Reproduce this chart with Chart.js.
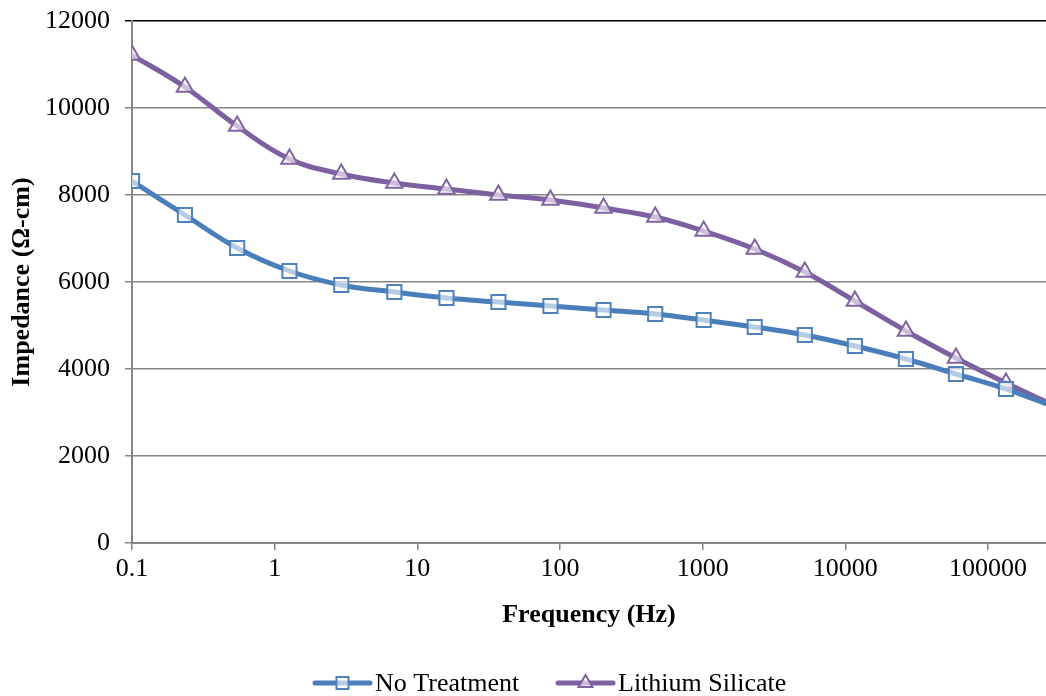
<!DOCTYPE html>
<html>
<head>
<meta charset="utf-8">
<script src="https://cdn.jsdelivr.net/npm/chart.js@4.4.1/dist/chart.umd.min.js"></script>
<style>
  html, body { margin:0; padding:0; background:#fff; }
  #wrap { width:1046px; height:696px; }
</style>
</head>
<body>
<div id="wrap"><canvas id="impChart" width="1046" height="696"></canvas></div>
<script>
// --- Data ---
const frequency = [0.1, 0.235, 0.546, 1.27, 2.93, 6.9, 16, 37, 85.7, 202, 465, 1016, 2317, 5200, 11670, 26600, 59600, 133700, 305000];
const noTreatment = [8322, 7540, 6782, 6253, 5931, 5770, 5632, 5540, 5448, 5356, 5264, 5126, 4966, 4782, 4529, 4230, 3885, 3540, 3110];
const lithiumSilicate = [11218, 10483, 9586, 8828, 8483, 8276, 8138, 8000, 7885, 7701, 7494, 7172, 6759, 6230, 5563, 4874, 4253, 3678, 3130];
const xTicks = [0.1, 1, 10, 100, 1000, 10000, 100000];
const seriesNames = ['No Treatment', 'Lithium Silicate'];

const FONT = '"Liberation Serif", "Times New Roman", serif';
const GRID = '#868686';

const toPoints = vals => vals.map((v,i)=>({x: frequency[i], y: v}));

// --- Legend drawn as line + marker, like the spreadsheet legend ---
const lineLegend = {
  id: 'lineLegend',
  afterDraw(chart){
    const c = chart.ctx;
    const items = [
      {x: 315, ds: chart.data.datasets[0]},
      {x: 558, ds: chart.data.datasets[1]}
    ];
    const y = 683;
    c.save();
    items.forEach(it=>{
      c.strokeStyle = it.ds.borderColor;
      c.lineWidth = it.ds.borderWidth;
      c.lineCap = 'round';
      c.beginPath();
      c.moveTo(it.x, y);
      c.lineTo(it.x + 55, y);
      c.stroke();
      c.fillStyle = it.ds.pointBackgroundColor;
      c.strokeStyle = it.ds.pointBorderColor;
      c.lineWidth = it.ds.pointBorderWidth;
      Chart.helpers.drawPoint(c, {
        pointStyle: it.ds.pointStyle,
        radius: it.ds.pointRadius * 0.85,
        borderWidth: it.ds.pointBorderWidth
      }, it.x + 27.5, y);
      c.fillStyle = '#000';
      c.font = '26px ' + FONT;
      c.textBaseline = 'middle';
      c.fillText(it.ds.label, it.x + 60, y + 1);
    });
    c.restore();
  }
};

const ctx = document.getElementById('impChart').getContext('2d');
const chart = new Chart(ctx, {
  type: 'line',
  data: {
    datasets: [
      {
        label: seriesNames[0],
        data: toPoints(noTreatment),
        borderColor: '#4A7EBB',
        borderWidth: 5,
        pointStyle: 'rect',
        pointRadius: 10,
        pointBorderWidth: 2,
        pointBorderColor: '#4F81BD',
        pointBackgroundColor: 'rgba(255,255,255,0.6)',
        tension: 0.4
      },
      {
        label: seriesNames[1],
        data: toPoints(lithiumSilicate),
        borderColor: '#7D60A0',
        borderWidth: 5,
        pointStyle: 'triangle',
        pointRadius: 9.5,
        pointBorderWidth: 2,
        pointBorderColor: '#8064A2',
        pointBackgroundColor: 'rgba(255,255,255,0.6)',
        tension: 0.4
      }
    ]
  },
  options: {
    responsive: false,
    animation: false,
    layout: { autoPadding: false, padding: { top: 21, right: 0, left: 0, bottom: 63 } },
    plugins: {
      legend: { display: false },
      tooltip: { enabled: false }
    },
    scales: {
      x: {
        type: 'logarithmic',
        min: 0.1,
        max: 255000,
        afterBuildTicks: s => { s.ticks = xTicks.map(v=>({value: v})); },
        afterFit: s => { s.height = 90; s.paddingLeft = 0; s.paddingRight = 0; },
        ticks: {
          color: '#000',
          font: { family: FONT, size: 26 },
          padding: 4,
          maxRotation: 0,
          autoSkip: false,
          callback: v => String(v)
        },
        grid: { drawOnChartArea: false, color: GRID, lineWidth: 1.5, tickLength: 7 },
        border: { color: GRID, width: 2 },
        title: {
          display: true,
          text: 'Frequency (Hz)',
          color: '#000',
          font: { family: FONT, size: 26, weight: 'bold' },
          padding: { top: 0, bottom: 2 }
        }
      },
      y: {
        min: 0,
        max: 12000,
        afterFit: s => { s.width = 132; s.paddingTop = 0; s.paddingBottom = 0; },
        ticks: {
          stepSize: 2000,
          color: '#000',
          font: { family: FONT, size: 26 },
          padding: 15,
          callback: v => String(v)
        },
        grid: {
          color: c => c.tick && c.tick.value === 12000 ? '#000' : GRID,
          lineWidth: 1.5,
          tickLength: 7
        },
        border: { color: GRID, width: 2 },
        title: {
          display: true,
          text: 'Impedance (Ω-cm)',
          color: '#000',
          font: { family: FONT, size: 26, weight: 'bold' },
          padding: { top: 7, bottom: 0 }
        }
      }
    }
  },
  plugins: [lineLegend]
});
</script>
</body>
</html>
